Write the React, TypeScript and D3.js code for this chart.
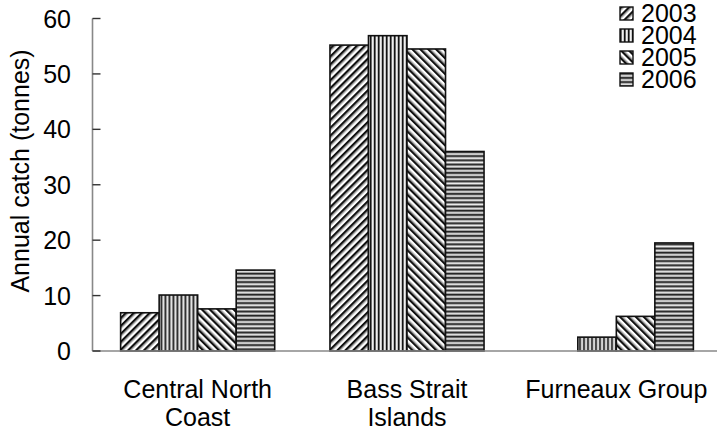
import React from "react";
import * as d3 from "d3";

const categories = [["Central North", "Coast"], ["Bass Strait", "Islands"], ["Furneaux Group"]];
const categoryKeys = ["Central North Coast", "Bass Strait Islands", "Furneaux Group"];
const years = ["2003", "2004", "2005", "2006"];
const v2003 = [6.9, 55.2, 0];
const v2004 = [10.1, 56.9, 2.5];
const v2005 = [7.6, 54.5, 6.25];
const v2006 = [14.6, 36.0, 19.5];
const series = [v2003, v2004, v2005, v2006];
const yTicks = [0, 10, 20, 30, 40, 50, 60];

const W = 717, H = 435;
const FONT = "'Liberation Sans', Arial, sans-serif";
const FS = 25;

export default function App() {
  const x0 = d3.scaleBand().domain(categoryKeys).range([93, 721]).paddingInner(0.264).paddingOuter(0.132);
  const x1 = d3.scaleBand().domain(years).range([0, x0.bandwidth()]).padding(0);
  const y = d3.scaleLinear().domain([0, 60]).range([351, 18.5]);
  const axisX = 92.5;

  return (
    <svg width={W} height={H} style={{ position: "absolute", left: 0, top: 0, background: "#fff" }}>
      <defs>
        <pattern id="p2003" patternUnits="userSpaceOnUse" width="5.6" height="5.6" patternTransform="rotate(45)">
          <rect width="5.6" height="5.6" fill="#fff" />
          <rect x="0" width="2.4" height="5.6" fill="#111" />
          <rect x="2.4" width="0.9" height="5.6" fill="#999" />
        </pattern>
        <pattern id="p2005" patternUnits="userSpaceOnUse" width="5.6" height="5.6" patternTransform="rotate(-45)">
          <rect width="5.6" height="5.6" fill="#fff" />
          <rect x="0" width="2.4" height="5.6" fill="#111" />
          <rect x="2.4" width="0.9" height="5.6" fill="#999" />
        </pattern>
        <pattern id="p2004" patternUnits="userSpaceOnUse" width="4" height="4">
          <rect width="4" height="4" fill="#bbb" />
          <rect x="0" width="1.5" height="4" fill="#111" />
          <rect x="2.2" width="1" height="4" fill="#fff" />
        </pattern>
        <pattern id="p2006" patternUnits="userSpaceOnUse" width="4" height="4.2">
          <rect width="4" height="4.2" fill="#999" />
          <rect y="0" width="4" height="1.4" fill="#222" />
          <rect y="2.3" width="4" height="1" fill="#f4f4f4" />
        </pattern>
      </defs>

      {categoryKeys.map((c, ci) => (
        <g key={c} transform={`translate(${x0(c)},0)`}>
          {years.map((yr, si) => {
            const v = series[si][ci];
            if (!v) return null;
            return (
              <rect key={yr} x={x1(yr)} y={y(v)} width={x1.bandwidth()} height={y(0) - y(v)}
                fill={`url(#p${yr})`} stroke="#111" strokeWidth={1.6} />
            );
          })}
        </g>
      ))}

      <line x1={axisX} x2={721} y1={y(0)} y2={y(0)} stroke="#888" strokeWidth={1.6} />
      <line x1={axisX} x2={axisX} y1={y(60)} y2={y(0)} stroke="#888" strokeWidth={1.6} />
      {yTicks.map(t => (
        <g key={t}>
          <line x1={axisX} x2={axisX + 8} y1={y(t)} y2={y(t)} stroke="#333" strokeWidth={1.4} />
          <text x={71} y={y(t)} dy="0.36em" textAnchor="end" fontFamily={FONT} fontSize={FS} fill="#000">{t}</text>
        </g>
      ))}

      <text transform={`translate(29,${171}) rotate(-90)`} textAnchor="middle" fontFamily={FONT} fontSize={FS} fill="#000">
        Annual catch (tonnes)
      </text>

      {categoryKeys.map((c, ci) => (
        <text key={c} x={(x0(c) as number) + x0.bandwidth() / 2} y={398} textAnchor="middle" fontFamily={FONT} fontSize={FS} fill="#000">
          {categories[ci].map((line, li) => (
            <tspan key={li} x={(x0(c) as number) + x0.bandwidth() / 2} dy={li === 0 ? 0 : 28}>{line}</tspan>
          ))}
        </text>
      ))}

      {years.map((yr, i) => (
        <g key={yr} transform={`translate(620,${7 + i * 22})`}>
          <rect width={13} height={13} fill={`url(#p${yr})`} stroke="#111" strokeWidth={1.4} />
          <text x={21} y={15} fontFamily={FONT} fontSize={FS} fill="#000">{yr}</text>
        </g>
      ))}
    </svg>
  );
}
